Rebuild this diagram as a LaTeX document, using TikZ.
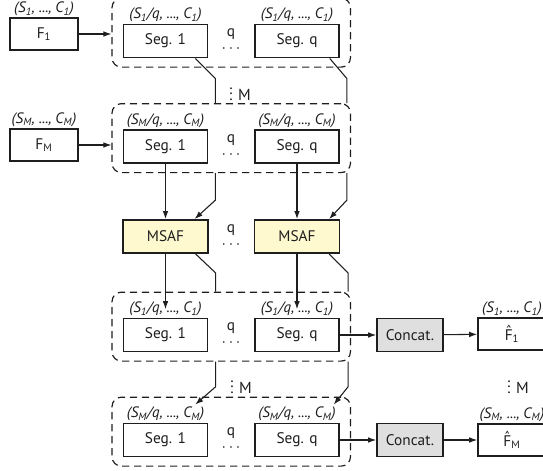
\documentclass[tikz,border=0pt]{standalone}
\usepackage{fontspec}
\setmainfont{PT Sans}
\usepackage{tikz}
\usetikzlibrary{arrows.meta,positioning,calc,fit}
\definecolor{Ink}{HTML}{1E1E1E}
\definecolor{Lemon}{HTML}{FFF9CF}
\definecolor{Ash}{HTML}{DFDFDF}
\newcommand{\lo}[1]{\textsubscript{#1}}
\newcommand{\segtag}[1]{(S\lo{#1}/q, ..., C\lo{#1})}
\newcommand{\feattag}[1]{(S\lo{#1}, ..., C\lo{#1})}
\newcommand{\hatF}{\makebox[0pt][l]{\makebox[\fontcharwd\font`F][c]{\raisebox{2.4pt}{\char"02C6}}}F}
\tikzset{
  block/.style={
    draw=Ink,line width=1.2pt,fill=white,inner sep=0pt,
    minimum width=63pt,minimum height=25pt,
    font=\fontsize{11.5}{13}\selectfont,text=Ink
  },
  segbox/.style={block},
  featbox/.style={block,minimum width=51pt,minimum height=24pt},
  msafbox/.style={block,fill=Lemon,minimum width=63.5pt},
  catbox/.style={block,fill=Ash,minimum width=49.5pt},
  tag/.style={font=\fontsize{11.3}{12}\selectfont\itshape,inner sep=0.8pt,text=Ink},
  group/.style={
    draw=Ink,line width=0.9pt,dash pattern=on 5.5pt off 3.5pt,
    rounded corners=7pt,inner xsep=8pt,inner ysep=6.5pt
  },
  dotsq/.style={align=center,inner sep=0pt,font=\fontsize{11.5}{12}\selectfont,text=Ink},
  vdotsm/.style={inner sep=0pt,font=\fontsize{12}{12}\selectfont,text=Ink},
  arrow/.style={-{Latex[length=6pt,width=4.2pt]},line width=0.8pt,draw=Ink},
  wire/.style={line width=0.8pt,draw=Ink}
}

\begin{document}
\begin{tikzpicture}[x=0.75pt,y=-0.75pt]
      \useasboundingbox (0,0) rectangle (543,471);
      % inputs and first split
      \node[featbox] (f1) at (44,34) {F\lo{1}};
      \node[tag,above=0pt of f1] (tf1) {\feattag{1}};
      \node[segbox] (s11) at (165.5,41) {Seg. 1};
      \node[segbox] (s1q) at (297,41) {Seg. q};
      \node[tag,above=0pt of s11] (t11) {\segtag{1}};
      \node[tag,above=0pt of s1q] (t1q) {\segtag{1}};
      \node[dotsq] (q1) at (231,41) {q\\$\cdots$};
      \node[group,fit=(t11)(s11)(s1q)] (g1) {};
      \draw[arrow] (f1) -- (f1 -| g1.west);

      \node[vdotsm] (vm1) at (240,90) {$\vdots$\hspace{4pt}M};

      \node[featbox] (fm) at (44,145) {F\lo{M}};
      \node[tag,above=0pt of fm] (tfm) {\feattag{M}};
      \node[segbox] (s21) at (165.5,146.5) {Seg. 1};
      \node[segbox] (s2q) at (297,146.5) {Seg. q};
      \node[tag,above=0pt of s21] (t21) {\segtag{M}};
      \node[tag,above=0pt of s2q] (t2q) {\segtag{M}};
      \node[dotsq] (q2) at (231,146.5) {q\\$\cdots$};
      \node[group,fit=(t21)(s21)(s2q)] (g2) {};
      \draw[arrow] (fm) -- (fm -| g2.west);

      \draw[wire] ([xshift=-9.75pt]s11.south east) -- ++(20,20) coordinate (k1) -- (k1 |- g2.north);
      \draw[wire] ([xshift=-7.5pt]s1q.south east) -- ++(17,20) coordinate (k2) -- (k2 |- g2.north);

      % filters
      \node[msafbox] (m1) at (165.5,236.5) {MSAF};
      \node[msafbox] (mq) at (297,236.5) {MSAF};
      \node[dotsq] (q3) at (231,236.5) {q\\$\cdots$};
      \draw[arrow] (s21) -- (m1);
      \draw[arrow] (s2q) -- (mq);
      \draw[arrow] (g2.south -| k1) -- ++(0,27) -- ([xshift=-10.5pt]m1.north east);
      \draw[arrow] (g2.south -| k2) -- ++(0,27) -- ([xshift=-8.25pt]mq.north east);

      % filtered segments
      \node[segbox] (s31) at (165.5,335) {Seg. 1};
      \node[segbox] (s3q) at (297,335) {Seg. q};
      \node[tag,above=0pt of s31] (t31) {\segtag{1}};
      \node[tag,above=0pt of s3q] (t3q) {\segtag{1}};
      \node[dotsq] (q4) at (231,335) {q\\$\cdots$};
      \node[group,fit=(t31)(s31)(s3q)] (g3) {};
      \draw[arrow] (m1) -- (t31.center);
      \draw[arrow] (mq) -- (t3q.center);
      \draw[wire] ([xshift=-9.75pt]m1.south east) -- ++(20,19) coordinate (k3) -- (k3 |- g3.north);
      \draw[wire] ([xshift=-8.25pt]mq.south east) -- ++(19,19) coordinate (k4) -- (k4 |- g3.north);

      \node[catbox] (c1) at (410,335) {Concat.};
      \node[featbox] (h1) at (512,334) {\hatF\lo{1}};
      \node[tag,above=0pt of h1] (th1) {\feattag{1}};
      \draw[arrow] (s3q) -- (c1);
      \draw[arrow] (c1) -- (h1);

      \node[vdotsm] (vm2) at (241,383) {$\vdots$\hspace{4pt}M};
      \node[vdotsm] (vm3) at (518,383) {$\vdots$\hspace{4pt}M};

      \node[segbox] (s41) at (165.5,440) {Seg. 1};
      \node[segbox] (s4q) at (297,440) {Seg. q};
      \node[tag,above=0pt of s41] (t41) {\segtag{M}};
      \node[tag,above=0pt of s4q] (t4q) {\segtag{M}};
      \node[dotsq] (q5) at (231,440) {q\\$\cdots$};
      \node[group,fit=(t41)(s41)(s4q)] (g4) {};
      \draw[arrow] (g3.south -| k3) -- ++(0,25) -- ($(s41.north east)+(-13,-18)$);
      \draw[arrow] (g3.south -| k4) -- ++(0,25) -- ($(s4q.north east)+(-6,-18)$);

      \node[catbox] (c2) at (410,440) {Concat.};
      \node[featbox] (hm) at (512,440) {\hatF\lo{M}};
      \node[tag,above=0pt of hm] (thm) {\feattag{M}};
      \draw[arrow] (s4q) -- (c2);
      \draw[arrow] (c2) -- (hm);
    \end{tikzpicture}
\end{document}
